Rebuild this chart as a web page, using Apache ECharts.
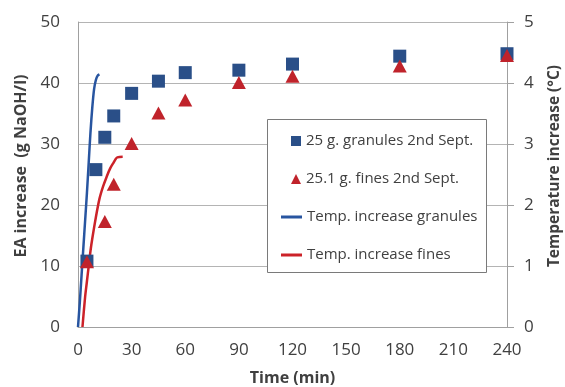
<!DOCTYPE html>
<html>
<head>
<meta charset="utf-8">
<script src="https://cdn.jsdelivr.net/npm/echarts@6/dist/echarts.min.js"></script>
<style>html,body{margin:0;padding:0;background:#fff}#c{width:565px;height:387px}</style>
</head>
<body>
<div id="c"></div>
<script>
// Data
var granTime = [5, 10, 15, 20, 30, 45, 60, 90, 120, 180, 240];
var granEA   = [10.8, 25.8, 31.1, 34.6, 38.3, 40.3, 41.7, 42.1, 43.1, 44.4, 44.8];
var finesTime = [5, 15, 20, 30, 45, 60, 90, 120, 180, 240];
var finesEA   = [10.7, 17.3, 23.4, 30.1, 35.1, 37.2, 40.1, 41.1, 42.8, 44.5];
var tempGranTime = [0, 1, 2, 3, 4, 5, 6, 7, 8, 9, 10, 11, 12];
var tempGranVal  = [0, 0.4, 0.85, 1.3, 1.75, 2.2, 2.7, 3.2, 3.6, 3.9, 4.05, 4.12, 4.14];
var tempFinesTime = [2.5, 4, 5, 6, 7, 8, 10, 12, 14, 16, 18, 20, 21, 22, 25];
var tempFinesVal  = [0, 0.5, 0.75, 1.0, 1.25, 1.45, 1.8, 2.1, 2.3, 2.46, 2.6, 2.7, 2.75, 2.78, 2.79];
var names = ['25 g. granules 2nd Sept.', '25.1 g. fines 2nd Sept.', 'Temp. increase granules', 'Temp. increase fines'];
var xTitle = 'Time (min)';
var yLeftTitle = 'EA increase  (g NaOH/l)';
var yRightTitle = 'Temperature increase (°C)';

function pairs(xs, ys) { return xs.map(function (x, i) { return [x, ys[i]]; }); }

var BLUE = '#2A4F88', RED = '#C0232B', LBLUE = '#2855A0', LRED = '#CC2229';
var FONT = 'Open Sans';
var TXT = '#404040';
var chart = echarts.init(document.getElementById('c'));
chart.setOption({
  animation: false,
  backgroundColor: '#fff',
  textStyle: { fontFamily: FONT },
  grid: { left: 78, right: 58, top: 22, bottom: 60, containLabel: false, outerBoundsMode: 'none' },
  xAxis: {
    type: 'value', min: 0, max: 240, interval: 30,
    name: xTitle, nameLocation: 'middle', nameGap: 43,
    nameTextStyle: { fontFamily: FONT, fontSize: 16, fontWeight: 'bold', color: TXT },
    axisLine: { lineStyle: { color: '#A0A0A0', width: 1 } },
    axisTick: { show: false },
    splitLine: { show: false },
    axisLabel: { fontFamily: FONT, fontSize: 17, color: TXT, margin: 15 }
  },
  yAxis: [{
    type: 'value', min: 0, max: 50, interval: 10, position: 'left',
    axisLine: { show: true, lineStyle: { color: '#A0A0A0', width: 1 } },
    axisTick: { show: false },
    splitLine: { lineStyle: { color: '#B4B4B4', width: 1 } },
    axisLabel: { fontFamily: FONT, fontSize: 17, color: TXT, margin: 18 }
  }, {
    type: 'value', min: 0, max: 5, interval: 1, position: 'right',
    axisLine: { show: true, lineStyle: { color: '#A0A0A0', width: 1 } },
    axisTick: { show: true, inside: false, length: 7, lineStyle: { color: '#A0A0A0' } },
    splitLine: { show: false },
    axisLabel: { fontFamily: FONT, fontSize: 17, color: TXT, margin: 17 }
  }],
  graphic: [{
    type: 'rect', z: 3,
    shape: { x: 267.5, y: 119.5, width: 219, height: 153 },
    style: { fill: '#fff', stroke: '#7A7A7A', lineWidth: 1 }
  }, {
    type: 'text', z: 3, x: 21, y: 166, rotation: Math.PI / 2,
    style: { text: yLeftTitle, font: 'bold 16px "Open Sans"', fill: TXT, textAlign: 'center', textVerticalAlign: 'middle' }
  }, {
    type: 'text', z: 3, x: 555, y: 166, rotation: Math.PI / 2,
    style: { text: yRightTitle, font: 'bold 15.5px "Open Sans"', fill: TXT, textAlign: 'center', textVerticalAlign: 'middle' }
  }],
  legend: [{
    orient: 'vertical', left: 291, top: 132, itemWidth: 10, itemHeight: 10, itemGap: 20,
    padding: 0, z: 5,
    textStyle: { fontFamily: FONT, fontSize: 15, lineHeight: 18, color: TXT },
    data: [{ name: names[0], icon: 'rect' }, { name: names[1], icon: 'triangle' }]
  }, {
    orient: 'vertical', left: 281, top: 208, itemWidth: 21, itemHeight: 3, itemGap: 20,
    padding: 0, z: 5,
    textStyle: { fontFamily: FONT, fontSize: 15, lineHeight: 18, color: TXT },
    data: [{ name: names[2], icon: 'rect' }, { name: names[3], icon: 'rect' }]
  }],
  series: [{
    name: names[0], type: 'scatter', yAxisIndex: 0, symbol: 'rect', symbolSize: 13,
    itemStyle: { color: BLUE, opacity: 1 }, data: pairs(granTime, granEA), z: 6
  }, {
    name: names[1], type: 'scatter', yAxisIndex: 0, symbol: 'triangle', symbolSize: [14, 13],
    itemStyle: { color: RED, opacity: 1 }, data: pairs(finesTime, finesEA), z: 7
  }, {
    name: names[2], type: 'line', yAxisIndex: 1, smooth: 0.3, showSymbol: false, symbol: 'none',
    lineStyle: { color: LBLUE, width: 2.5 }, itemStyle: { color: LBLUE },
    data: pairs(tempGranTime, tempGranVal), z: 5
  }, {
    name: names[3], type: 'line', yAxisIndex: 1, smooth: 0.3, showSymbol: false, symbol: 'none',
    lineStyle: { color: LRED, width: 2.5 }, itemStyle: { color: LRED },
    data: pairs(tempFinesTime, tempFinesVal), z: 5
  }]
});
</script>
</body>
</html>
